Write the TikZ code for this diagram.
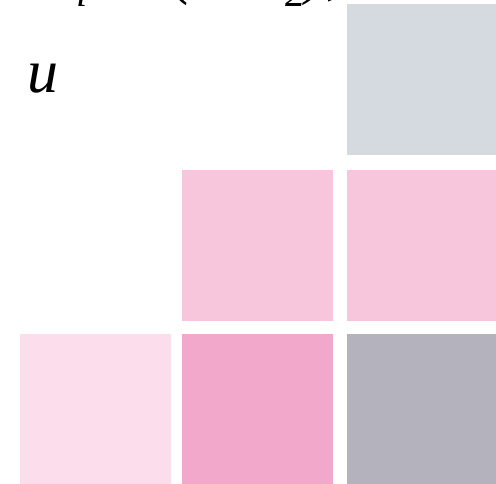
\documentclass[tikz,border=0pt]{standalone}
\usepackage{fontspec}
\setmainfont{Liberation Serif}
\definecolor{slate}{HTML}{D5D9E0}
\definecolor{rose}{HTML}{F7C6DC}
\definecolor{blush}{HTML}{FBDDEB}
\definecolor{orchid}{HTML}{F1A8CB}
\definecolor{mauvegray}{HTML}{B4B2BD}
\tikzset{
    tile/.style={minimum size=151pt, inner sep=0pt, outer sep=0pt},
    bigtxt/.style={font=\fontsize{62}{70}\selectfont\itshape, inner sep=0pt, anchor=base west}
}
\newcommand\sbs[1]{\raisebox{-0.22em}{\fontsize{40}{40}\selectfont #1}}

\begin{document}
\begin{tikzpicture}[x=1pt, y=1pt]
    \useasboundingbox (0,0) rectangle (496,483);
    % Верхний ряд
    \node[tile, fill=slate] (c13) at (422.5,403) {};
    % Средний ряд
    \node[tile, fill=rose] (c22) at (257.5,237.5) {};
    \node[tile, fill=rose] (c23) at (422.5,237.5) {};
    % Нижний ряд
    \node[tile, fill=blush] (c31) at (95,73.5) {};
    \node[tile, fill=orchid] (c32) at (257.5,73.5) {};
    \node[tile, fill=mauvegray] (c33) at (422.5,73.5) {};
    % Подписи
    \node[bigtxt] (u) at (27,390) {u};
    \node[bigtxt] (ui) at (45,490) {u\sbs{i} =\hspace{12pt} (w\,\,u\sbs{2}),};
\end{tikzpicture}
\end{document}
